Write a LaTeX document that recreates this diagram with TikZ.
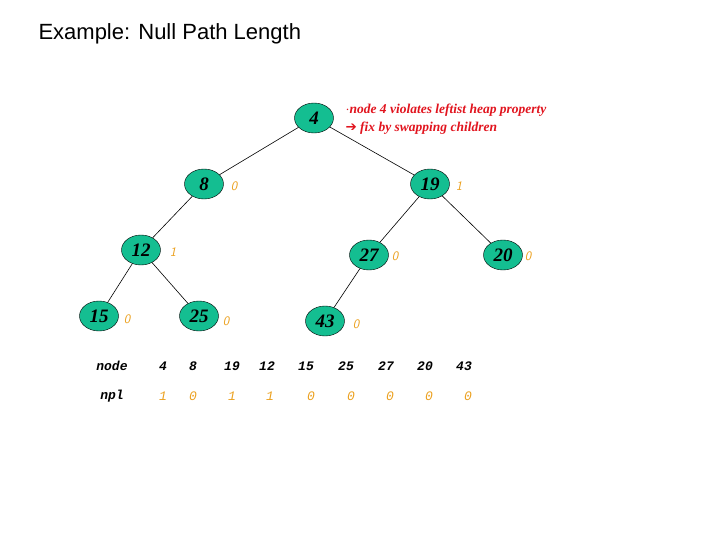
\documentclass[tikz,border=0pt]{standalone}
\usepackage{fontspec}
\setmainfont{Liberation Serif}
\newfontfamily\titlefont{Liberation Sans}
\newfontfamily\monofont{Liberation Mono}
\newfontfamily\symfont{DejaVu Sans}
\usetikzlibrary{shapes.geometric}
\definecolor{teal}{RGB}{20,190,145}
\definecolor{npl}{RGB}{235,160,30}
\definecolor{note}{RGB}{225,20,30}
\begin{document}
\begin{tikzpicture}[x=1pt,y=-1pt,
  hn/.style={ellipse,draw=black,fill=teal,minimum width=39pt,minimum height=30pt,inner sep=0pt,font=\fontsize{19}{19}\selectfont\bfseries\itshape},
  lb/.style={text=npl,font=\fontsize{13}{13}\selectfont\sffamily\itshape},
  tb/.style={font=\fontsize{13}{13}\monofont\bfseries\itshape},
  edge/.style={draw=black,line width=0.6pt}]
\useasboundingbox (0,0) rectangle (728,546);
\node[anchor=west,font=\fontsize{22}{22}\titlefont] (title) at (35,34) {Example: Null Path Length};
\node[hn] (n4) at (314,118) {4};
\node[hn] (n8) at (204,184) {8};
\node[hn] (n19) at (430,184) {19};
\node[hn] (n12) at (141,250) {12};
\node[hn] (n27) at (369,255) {27};
\node[hn] (n20) at (503,255) {20};
\node[hn] (n15) at (99,316) {15};
\node[hn] (n25) at (199,316) {25};
\node[hn] (n43) at (325,321) {43};
\foreach \a/\b in {n4/n8,n4/n19,n8/n12,n19/n27,n19/n20,n12/n15,n12/n25,n27/n43}
  \draw[edge] (\a) -- (\b);
\node[lb] (l8) at (234,186) {0};
\node[lb] (l19) at (459,186) {1};
\node[lb] (l12) at (173,252) {1};
\node[lb] (l27) at (395,256) {0};
\node[lb] (l20) at (528,256) {0};
\node[lb] (l15) at (127,319) {0};
\node[lb] (l25) at (226,321) {0};
\node[lb] (l43) at (356,324) {0};
\node[anchor=west,text=note,font=\fontsize{13.5}{13.5}\selectfont\bfseries\itshape] (note1) at (342,110) {$\cdot$node 4 violates leftist heap property};
\node[anchor=west,text=note,font=\fontsize{13.5}{13.5}\selectfont\bfseries\itshape] (note2) at (342,128) {{\symfont\upshape ➔} fix by swapping children};
\node[tb] (h1) at (112,366) {node};
\node[tb] (h2) at (112,396) {npl};
\foreach \x/\v in {163/4,193/8,232/19,267/12,306/15,346/25,386/27,425/20,464/43}
  \node[tb] at (\x,366) {\v};
\foreach \x in {163,193,232,270,311,351,390,429,468}
  \node[tb,text=npl,font=\fontsize{13}{13}\monofont\itshape] at (\x,396) {\ifnum\x=163 1\else\ifnum\x=232 1\else\ifnum\x=270 1\else 0\fi\fi\fi};
\end{tikzpicture}
\end{document}
